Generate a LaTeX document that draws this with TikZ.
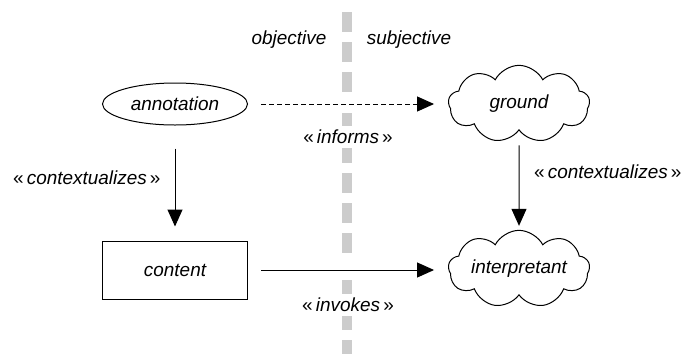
\documentclass[tikz,border=0pt]{standalone}
\usepackage{fontspec}
\setmainfont{Liberation Sans}
\usepackage{xcolor}
\usetikzlibrary{arrows.meta}
\usetikzlibrary{shapes.geometric, shapes.symbols}
\definecolor{divgray}{RGB}{204,204,204}

\newcommand{\stereo}[1]{\textup{«}\,#1\,\textup{»}}

\tikzset{
  txt/.style={font=\fontsize{14.2}{17}\selectfont\itshape},
  thing/.style={txt, draw, line width=0.75pt, minimum width=108.75pt, minimum height=43.5pt, inner sep=0pt},
  mind/.style={thing, cloud, cloud puffs=9, cloud puff arc=125, cloud ignores aspect, minimum width=106pt, minimum height=58pt},
  lbl/.style={txt, fill=white, inner sep=3pt},
  rel/.style={line width=0.75pt, -{Triangle[length=12.75pt,width=11.25pt]}},
  divider/.style={divgray, line width=7pt, dash pattern=on 15pt off 7.5pt},
}

\begin{document}
\begin{tikzpicture}[x=0.75pt, y=-0.75pt]
\useasboundingbox (0,0) rectangle (681,354);

% the split
\foreach \a/\b in {12/95, 113/258, 280/354}{
  \draw[divider] (347,\a) -- (347,\b);
}
\node[txt] (obj) at (289,40) {objective};
\node[txt] (subj) at (409,40) {subjective};

\node[thing, ellipse, minimum height=31.5pt] (annotation) at (175,104) {annotation};
\node[thing] (content) at (175,270) {content};
\node[mind] (ground) at (519,104) {ground};
\node[mind] (interpretant) at (519,269) {interpretant};

\draw[rel, dash pattern=on 3.75pt off 2.25pt, shorten <=9.75pt, shorten >=10.5pt]
  (annotation.east) -- (ground.west |- annotation.east)
  node[lbl, midway, yshift=-24.75pt] (informs) {\stereo{informs}};
\draw[rel, shorten <=9.75pt, shorten >=10.5pt]
  (content.east) -- (interpretant.west |- content.east)
  node[lbl, midway, yshift=-26.25pt] (invokes) {\stereo{invokes}};
\draw[rel, shorten <=17.25pt, shorten >=10.5pt]
  (annotation.south) -- (content.north)
  node[lbl, pos=0.45, left=7.5pt] (ctxl) {\stereo{contextualizes}};
\draw[rel, shorten <=11pt, shorten >=3pt]
  (ground.south) -- (interpretant.north)
  node[lbl, pos=0.41, right=8pt] (ctxr) {\stereo{contextualizes}};

\end{tikzpicture}
\end{document}
